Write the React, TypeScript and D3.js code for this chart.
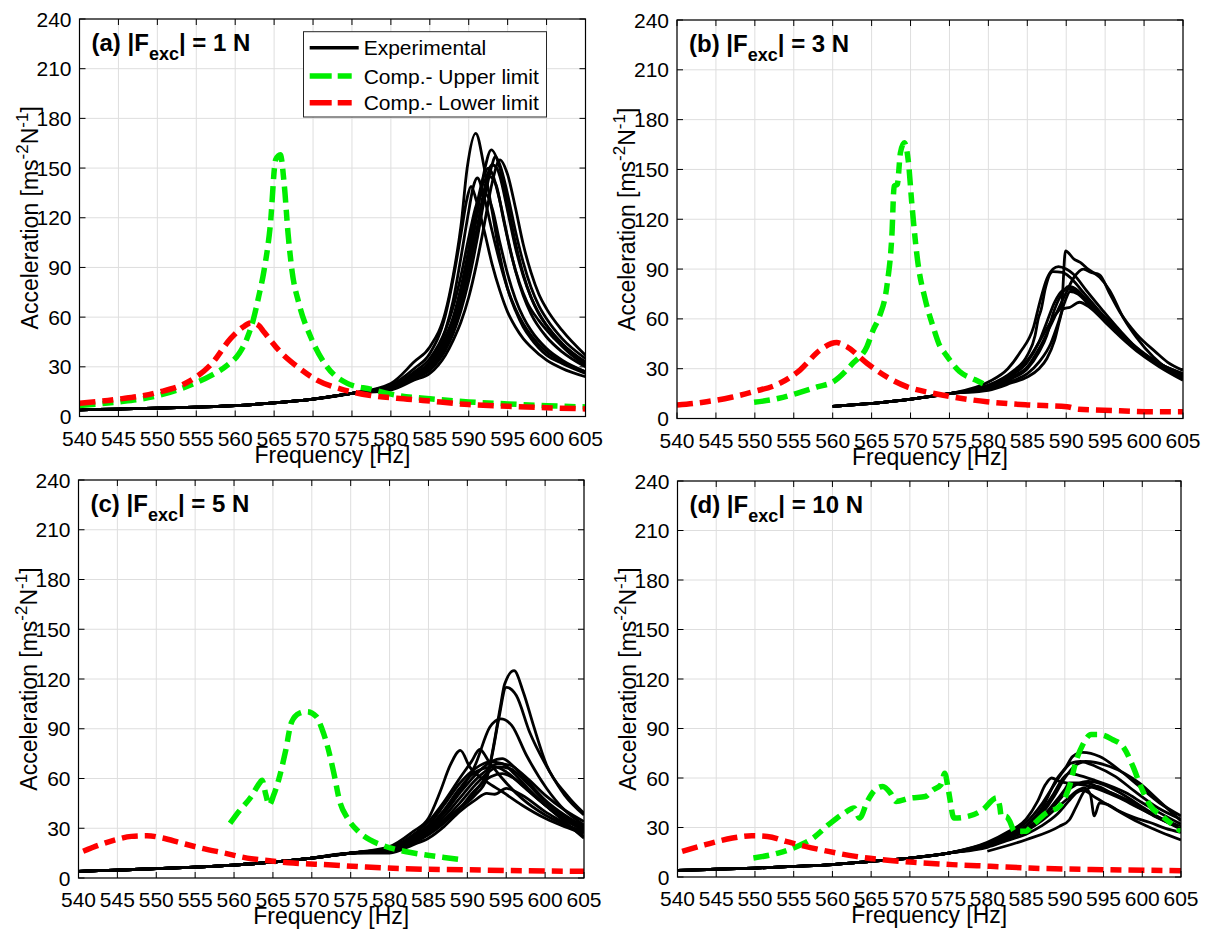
import React from 'react';
import * as d3 from 'd3';

type Pt = [number, number];

// ---------- axes ----------
const FREQ_TICKS = [540, 545, 550, 555, 560, 565, 570, 575, 580, 585, 590, 595, 600, 605];
const ACC_TICKS = [0, 30, 60, 90, 120, 150, 180, 210, 240];
const X_TITLE = 'Frequency [Hz]';
const LEGEND_LABELS = ['Experimental', 'Comp.- Upper limit', 'Comp.- Lower limit'];

// ---------- panel (a) |Fexc| = 1 N ----------
const LOW_A: Pt[] = [[540, 4], [545, 4.5], [550, 5], [555, 5.7], [560, 6.6], [565, 8.2], [570, 10.5], [575, 14]];
const EXP_A1: Pt[] = [[580, 20], [583, 33], [585, 42], [587, 63], [588, 85], [589, 115], [589.8, 150], [590.9, 171], [592, 150], [593, 124], [594, 97], [595, 77], [596, 64], [597, 54], [598, 47], [600, 37], [602, 32], [605, 26]];
const EXP_A2: Pt[] = [[580, 19], [583, 29], [585, 38], [587, 61], [588, 83], [589, 110], [589.8, 132], [590.3, 139], [591, 130], [592, 112], [593, 92], [594, 76], [595, 63], [596, 54], [597, 47], [598, 42], [600, 34], [602, 29], [605, 24]];
const EXP_A3: Pt[] = [[580, 18], [583, 26], [585, 33], [587, 52], [588, 70], [589, 96], [590, 124], [590.6, 139], [591.1, 144], [592, 132], [593, 112], [594, 93], [595, 77], [596, 65], [597, 56], [598, 49], [600, 39], [602, 33], [605, 27]];
const EXP_A4: Pt[] = [[580, 17], [583, 24], [585, 30], [587, 44], [588, 55], [589, 72], [590, 93], [591, 120], [592, 148], [592.9, 161], [594, 150], [595, 128], [596, 105], [597, 86], [598, 72], [599, 62], [600, 55], [602, 44], [605, 33]];
const EXP_A5: Pt[] = [[580, 16.5], [583, 23], [585, 28], [587, 40], [588, 50], [589, 64], [590, 82], [591, 105], [592, 131], [593, 152], [593.4, 157], [594, 152], [595, 134], [596, 112], [597, 93], [598, 78], [599, 67], [600, 59], [602, 47], [605, 35]];
const EXP_A6: Pt[] = [[580, 16], [583, 22], [585, 26], [587, 37], [588, 46], [589, 57], [590, 72], [591, 92], [592, 116], [593, 141], [594, 155], [595, 146], [596, 126], [597, 104], [598, 87], [599, 74], [600, 65], [602, 52], [605, 37]];
const EXP_A7: Pt[] = [[580, 17.5], [583, 25], [585, 32], [587, 48], [588, 60], [589, 78], [590, 101], [591, 127], [592, 146], [592.5, 150], [593, 147], [594, 130], [595, 108], [596, 88], [597, 73], [598, 62], [600, 48], [602, 39], [605, 30]];
const EXP_A8: Pt[] = [[580, 18], [583, 27], [585, 35], [587, 52], [588, 66], [589, 85], [590, 108], [591, 128], [592, 135], [593, 126], [594, 105], [595, 86], [596, 71], [597, 60], [598, 52], [600, 41], [602, 34], [605, 27]];
const EXP_A9: Pt[] = [[580, 16.5], [583, 23.5], [585, 29], [587, 42], [588, 53], [589, 68], [590, 88], [591, 112], [592, 137], [593, 152], [593.6, 150], [594, 145], [595, 124], [596, 102], [597, 85], [598, 72], [600, 55], [602, 44], [605, 32]];
const EXP_A10: Pt[] = [[580, 17], [583, 24], [585, 31], [587, 46], [588, 58], [589, 75], [590, 97], [591, 122], [591.8, 140], [592.6, 145], [593.5, 140], [594.5, 118], [595.5, 97], [596.5, 81], [597.5, 69], [599, 58], [601, 47], [603, 38], [605, 31]];
const UPPER_A: Pt[] = [[540, 6.7], [545, 8.8], [550, 12.5], [554.5, 19.5], [557, 25], [559, 31], [560.5, 38], [561.5, 47], [562.3, 58], [563, 72], [563.7, 88], [564.5, 115], [565.2, 155], [565.8, 158], [566.3, 140], [566.8, 110], [567.3, 88], [568.2, 68], [569.7, 48], [571.8, 30], [574.4, 20], [577.4, 16.5], [580.8, 12.8], [585, 10.7], [590, 8.8], [595, 7.6], [600, 6.5], [605, 5.8]];
const LOWER_A: Pt[] = [[540, 8], [545, 10.5], [550, 14.5], [554, 21], [557, 32], [559.4, 47], [561, 54], [562, 56.5], [563, 55], [563.7, 51], [565.8, 39], [568, 30], [570.5, 22], [573.5, 16.7], [577.4, 12.7], [580.8, 11], [584.1, 9.7], [590, 7.2], [595, 6.2], [600, 5.3], [605, 4.6]];

// ---------- panel (b) |Fexc| = 3 N ----------
const LOW_B: Pt[] = [[560, 7.3], [563, 8.3], [567, 10], [571, 12.3], [575, 15]];
const EXP_B1: Pt[] = [[580, 20], [583, 27], [585, 35], [587, 50], [588.5, 62], [589.4, 68], [589.9, 101], [591, 96], [591.8, 94], [592.8, 90], [594.3, 85], [595.6, 77], [597.3, 61], [599, 49], [601.2, 37], [603, 30], [605, 25]];
const EXP_B2: Pt[] = [[580, 22], [582.5, 30], [584.1, 40], [585.8, 55], [586.6, 70], [587.5, 84], [588.3, 90], [589, 91.5], [590, 90], [590.9, 87], [592.6, 77], [594.7, 65], [596.9, 53], [599.4, 41], [602, 33], [605, 27]];
const EXP_B3: Pt[] = [[580, 19], [583, 25], [585, 31], [586.5, 42], [588, 56], [589, 66], [590, 76], [591, 85], [592.2, 90], [593.2, 88], [594.3, 86.5], [595.5, 76], [596.9, 64], [599, 51], [601.5, 40], [603, 34], [605, 29]];
const EXP_B4: Pt[] = [[580, 20], [583, 28], [585, 38], [586, 50], [586.4, 60], [586.8, 66], [587.3, 78], [588.3, 88.5], [589.5, 88], [590.5, 85], [592, 77], [594, 66], [596, 55], [598.5, 44], [601, 35], [605, 26]];
const EXP_B5: Pt[] = [[580, 18.5], [583, 24], [585, 30], [586.5, 40], [587.5, 50], [588.3, 63], [589.3, 74], [590.3, 79.5], [591.5, 77], [592.6, 71], [594.5, 62], [596.5, 52], [599, 42], [602, 33], [605, 26]];
const EXP_B6: Pt[] = [[580, 17.5], [583, 22.5], [585, 27], [586.5, 34], [588, 45], [589, 58], [589.8, 70], [590.5, 76.5], [591.5, 75], [593, 68], [595, 59], [597, 50], [599.5, 40], [602, 32], [605, 24]];
const EXP_B7: Pt[] = [[580, 17], [583, 21.5], [585, 25], [586.5, 30], [587.5, 36], [588.5, 47], [589.2, 60], [589.6, 66], [590.5, 67], [591.7, 70], [593, 67], [595, 58], [597, 49], [599.5, 39], [602, 31], [605, 23]];
const EXP_B8: Pt[] = [[580, 19], [583, 26], [585, 34], [586.5, 46], [587.5, 58], [588.5, 70], [589.5, 77], [590.3, 78], [591.5, 76], [593, 70], [595, 61], [597, 51], [599.5, 41], [602, 33], [605, 27]];
const UPPER_B: Pt[] = [[549.9, 9.8], [553.1, 12.2], [555.4, 15.2], [558, 19], [560.1, 22.2], [562.6, 33.3], [564.4, 43.3], [565.2, 53.3], [566, 61.4], [567, 81], [567.6, 110], [567.9, 140], [568.3, 141], [568.7, 160], [569.2, 166], [569.7, 155.6], [570.2, 127.5], [570.9, 95.4], [571.9, 71.4], [572.9, 55.3], [573.8, 43.3], [574.4, 39.3], [576.3, 28.3], [578.3, 23.3], [579.6, 20.3]];
const LOWER_B: Pt[] = [[540, 8.1], [543.8, 10.1], [547, 12.8], [549.8, 16.1], [553.2, 21.2], [555.8, 29.2], [558.4, 41.3], [560.5, 45.7], [561.8, 43.3], [564.4, 33.3], [566.9, 25.2], [569.5, 19.2], [572.9, 15.2], [576, 12.5], [579.8, 10.1], [585, 8.2], [590.1, 7.1], [591.6, 5.6], [596, 4.8], [601.2, 4.1], [605, 4.1]];

// ---------- panel (c) |Fexc| = 5 N ----------
const LOW_C: Pt[] = [[540, 4], [545, 4.8], [550, 5.6], [555, 6.6], [560, 7.8], [565, 9.6], [570, 12], [575, 15]];
const EXP_C1: Pt[] = [[580, 17], [583, 23], [585, 28], [587, 35], [589, 42], [591, 50], [592.5, 60], [593.3, 78], [594.2, 102], [594.8, 117], [596, 125], [597.2, 112], [598.5, 92], [600.2, 68], [602.8, 50], [605, 39]];
const EXP_C2: Pt[] = [[580, 17], [583, 22], [585, 27], [587, 34], [589, 42], [591, 52], [593, 70], [594, 95], [595, 115], [596.3, 110], [598, 88], [600.6, 64], [602.5, 50], [605, 38]];
const EXP_C3: Pt[] = [[580, 18], [583, 25], [585, 31], [587, 40], [589, 52], [591, 68], [592.9, 91], [594.3, 96], [595.7, 92], [597.6, 74], [600.2, 54], [602.5, 41], [605, 32]];
const EXP_C4: Pt[] = [[580, 19], [583, 28], [585, 36], [586.5, 52], [587.8, 68], [589.1, 77], [590.3, 67], [592.5, 58], [594.5, 52], [597, 44], [600, 36], [602.5, 31], [605, 27]];
const EXP_C5: Pt[] = [[580, 18], [583, 26], [585, 34], [587, 46], [589, 60], [590.5, 70], [591.6, 77.5], [592.8, 70], [594.5, 60], [597, 48], [600, 38], [605, 28]];
const EXP_C6: Pt[] = [[580, 17.5], [583, 25], [585, 32], [587, 44], [589, 57], [591, 66], [593, 70], [594.5, 69], [596, 63], [598, 53], [600, 44], [602.5, 35], [605, 29]];
const EXP_C7: Pt[] = [[580, 16.5], [583, 23], [585, 29], [587, 39], [589, 51], [591, 62], [593, 70], [594.5, 72], [596, 67], [598, 57], [600, 47], [602.5, 38], [605, 31]];
const EXP_C8: Pt[] = [[580, 16], [583, 22], [585, 27], [587, 35], [589, 45], [591, 56], [592.5, 63], [594, 67], [595.5, 66], [597.5, 58], [600, 46], [602.5, 37], [605, 30]];
const EXP_C9: Pt[] = [[580, 15], [583, 20], [585, 24], [587, 31], [589, 40], [591, 47], [592.5, 51], [593.5, 50.5], [595, 54], [597, 50], [600, 40], [602.5, 33], [605, 25]];
const EXP_C10: Pt[] = [[580, 15.5], [583, 21], [585, 26], [587, 33], [589, 42], [591, 53], [593, 61], [594.5, 63], [596, 60], [598, 52], [600.5, 42], [602.5, 34], [605, 24]];
const EXP_C11: Pt[] = [[580, 17], [583, 24], [585, 30], [587, 41], [589, 54], [590.5, 62], [592, 66], [593.5, 67], [595, 64], [597, 56], [600, 44], [602.5, 36], [605, 30]];
const EXP_C12: Pt[] = [[580, 16.5], [583, 23], [585, 28], [587, 37], [589, 48], [591, 59], [592.5, 65], [594, 69], [595.5, 68], [597.5, 61], [600, 50], [602.5, 41], [605, 34]];
const UPPER_C: Pt[] = [[559.5, 33], [560.6, 40], [562.2, 49], [563.4, 58], [563.6, 59], [564.1, 50], [564.5, 44], [565.1, 50], [565.9, 62], [566.6, 76], [567.4, 94], [568.4, 99.3], [569.4, 100.3], [570.6, 97.3], [571.3, 90], [572.1, 78], [572.8, 64], [573.6, 46], [574.6, 36], [576, 28], [577.5, 23], [579.5, 19], [582, 16], [584.5, 14], [587, 12.4], [589.4, 11]];
const LOWER_C: Pt[] = [[540.6, 16.1], [542.8, 20.1], [544.8, 23.1], [546.8, 25.1], [548.8, 25.5], [550.8, 24.1], [553.2, 21.1], [555.7, 18.1], [558.7, 15.1], [561.7, 12], [564.6, 10.4], [567.6, 9], [572.1, 8], [577, 6.6], [582, 5.6], [589.4, 5], [597, 4.4], [605, 4]];

// ---------- panel (d) |Fexc| = 10 N ----------
const LOW_D: Pt[] = [[540, 4], [545, 4.7], [550, 5.4], [555, 6.4], [560, 7.5], [565, 9.5], [570, 11.5], [575, 14.5]];
const EXP_D1: Pt[] = [[580, 20], [582.5, 25], [585, 31], [587.2, 43], [588.9, 59], [590.2, 67], [591, 73], [592.3, 75.5], [594.5, 73], [597, 65], [599.6, 55], [602.2, 45], [605, 37]];
const EXP_D2: Pt[] = [[580, 19.5], [582.5, 24], [585, 29], [587, 38], [588.5, 48], [590, 60], [591.2, 67], [592.7, 70], [595.8, 67], [599.6, 57], [602.2, 46], [605, 34]];
const EXP_D3: Pt[] = [[580, 21], [582.5, 27], [585, 35], [586.5, 46], [587.5, 56], [588.3, 60], [589.3, 58], [591, 56.5], [592.7, 55.5], [595, 52], [597, 48], [599.5, 42], [602.2, 36], [605, 30.5]];
const EXP_D4: Pt[] = [[580, 20], [582.5, 25], [585, 31], [587, 40], [588.5, 50], [589.8, 60], [590.6, 63], [591.5, 62], [593.6, 59], [597.9, 51], [600, 45], [602.2, 39], [605, 32]];
const EXP_D5: Pt[] = [[580, 19], [582.5, 24], [585, 29], [587, 36], [588.5, 44], [590, 53], [590.6, 57], [592.7, 57], [594.9, 53], [598.8, 45], [602, 36], [605, 29]];
const EXP_D6: Pt[] = [[580, 18.5], [582.5, 23], [585, 28], [587, 34], [589, 42], [590.5, 48], [591.5, 52], [592.5, 54], [593.3, 50], [593.8, 37], [594.5, 45], [595.5, 44], [597, 40], [599, 36], [601, 33], [603, 29.5], [605, 27]];
const EXP_D7: Pt[] = [[580, 18], [582.5, 22], [585, 26], [587, 31], [589, 38], [590.5, 46], [591.5, 51], [592.3, 52.5], [594, 48], [595.8, 43], [599.6, 33], [602.5, 27], [605, 22.5]];
const EXP_D9: Pt[] = [[580, 20.5], [582.5, 26], [585, 33], [587, 44], [588.5, 55], [589.8, 64], [590.8, 69], [592, 70], [594, 67], [596.5, 61], [599, 52], [602, 42], [605, 35]];
const EXP_D10: Pt[] = [[580, 19], [582.5, 23.5], [585, 28], [587, 35], [588.8, 44], [590.3, 52], [591.5, 56], [593, 58], [595, 56], [597.5, 50], [600.5, 41], [603, 34], [605, 30]];
const EXP_D_LATE: Pt[] = [[580, 15.6], [585, 22.6], [589.3, 30.7], [590.6, 34.7], [591.5, 42.8], [592.7, 53], [594, 55], [596, 51], [598.5, 45], [601.5, 37], [605, 30]];
const UPPER_D: Pt[] = [[549.8, 11.5], [553, 14.5], [555.5, 18.6], [557.5, 23.6], [559.5, 31.7], [561.5, 38.7], [562.8, 41.8], [563.5, 35.7], [564.5, 45.8], [565.5, 52.8], [566.5, 54.9], [567.5, 50.8], [568.2, 45.8], [570, 47.8], [572, 48.8], [573, 52.8], [574, 55.9], [574.5, 62.9], [575, 51.8], [575.7, 35.7], [577.5, 36.7], [579.4, 40.7], [581.2, 47.9], [581.6, 42.8], [581.8, 36.8], [582.4, 36.8], [582.9, 33.7], [583.5, 27.7], [585, 27.7], [585.7, 30.7], [587.6, 38.8], [589.3, 42.8], [590.6, 55], [591.5, 71], [592.3, 80], [593.4, 86.3], [594.5, 86.3], [596.2, 83.2], [597.5, 79.2], [598.8, 67], [599.8, 55], [601.1, 42.8], [602.6, 36.8], [603.9, 31.7], [605, 27.7]];
const LOWER_D: Pt[] = [[540.6, 15.5], [543.6, 19.6], [547.1, 23.6], [549.6, 25], [551.6, 24.6], [554, 21.6], [556.5, 18.6], [559.5, 15.5], [563, 12.5], [566.5, 10.5], [570.5, 8.9], [575.5, 7.5], [580.4, 6.5], [585.4, 5.4], [590.4, 4.8], [595.4, 4.4], [605, 3.8]];

const TAGS = ['(a)', '(b)', '(c)', '(d)'];
const FORCES = ['1 N', '3 N', '5 N', '10 N'];

// ---------- layout ----------
const PANELS = [
  { id: 'a', box: [79.5, 585.5, 19, 416.5], low: LOW_A, exp: [EXP_A1, EXP_A2, EXP_A3, EXP_A4, EXP_A5, EXP_A6, EXP_A7, EXP_A8, EXP_A9, EXP_A10], extra: [] as Pt[][], upper: UPPER_A, lower: LOWER_A, legend: true },
  { id: 'b', box: [677, 1183, 20, 418.5], low: LOW_B, exp: [EXP_B1, EXP_B2, EXP_B3, EXP_B4, EXP_B5, EXP_B6, EXP_B7, EXP_B8], extra: [] as Pt[][], upper: UPPER_B, lower: LOWER_B, legend: false },
  { id: 'c', box: [78.5, 584, 480, 878], low: LOW_C, exp: [EXP_C1, EXP_C2, EXP_C3, EXP_C4, EXP_C5, EXP_C6, EXP_C7, EXP_C8, EXP_C9, EXP_C10, EXP_C11, EXP_C12], extra: [] as Pt[][], upper: UPPER_C, lower: LOWER_C, legend: false },
  { id: 'd', box: [677.5, 1181, 481, 877], low: LOW_D, exp: [EXP_D1, EXP_D2, EXP_D3, EXP_D4, EXP_D5, EXP_D6, EXP_D7, EXP_D9, EXP_D10], extra: [EXP_D_LATE], upper: UPPER_D, lower: LOWER_D, legend: false },
];

const FONT = '"Liberation Sans", Arial, Helvetica, sans-serif';
const GREEN = '#00ee00';
const RED = '#ff0000';
const DASH = '16,7,11,7';

function Panel({ p, idx }: { p: typeof PANELS[number]; idx: number }) {
  const [left, right, top, bottom] = p.box;
  const x = d3.scaleLinear().domain([540, 605]).range([left, right]);
  const y = d3.scaleLinear().domain([0, 240]).range([bottom, top]);
  const line = d3.line<Pt>().x(d => x(d[0])).y(d => y(d[1])).curve(d3.curveMonotoneX);
  const clipId = `clip-${p.id}`;
  const midX = (left + right) / 2;
  const midY = (top + bottom) / 2;
  const blackCurves = [...p.exp.map(c => [...p.low, ...c]), ...p.extra];
  return (
    <g>
      <defs>
        <clipPath id={clipId}>
          <rect x={left} y={top} width={right - left} height={bottom - top} />
        </clipPath>
      </defs>
      <rect x={left} y={top} width={right - left} height={bottom - top} fill="#fff" />
      {FREQ_TICKS.map(t => (
        <line key={'gx' + t} x1={x(t)} x2={x(t)} y1={top} y2={bottom} stroke="#dedede" strokeWidth={1} />
      ))}
      {ACC_TICKS.map(t => (
        <line key={'gy' + t} x1={left} x2={right} y1={y(t)} y2={y(t)} stroke="#dedede" strokeWidth={1} />
      ))}
      <g clipPath={`url(#${clipId})`}>
        {blackCurves.map((c, i) => (
          <path key={'e' + i} d={line(c) || ''} fill="none" stroke="#000" strokeWidth={2.8} strokeLinejoin="round" />
        ))}
        <path d={line(p.upper) || ''} fill="none" stroke={GREEN} strokeWidth={5.5} strokeDasharray={DASH} />
        <path d={line(p.lower) || ''} fill="none" stroke={RED} strokeWidth={5.5} strokeDasharray={DASH} />
      </g>
      {FREQ_TICKS.map(t => (
        <g key={'tx' + t}>
          <line x1={x(t)} x2={x(t)} y1={bottom} y2={bottom - 6} stroke="#000" strokeWidth={1} />
          <line x1={x(t)} x2={x(t)} y1={top} y2={top + 6} stroke="#000" strokeWidth={1} />
          <text x={x(t)} y={bottom + 29} textAnchor="middle" fontSize={21} fill="#000">{t}</text>
        </g>
      ))}
      {ACC_TICKS.map(t => (
        <g key={'ty' + t}>
          <line x1={left} x2={left + 6} y1={y(t)} y2={y(t)} stroke="#000" strokeWidth={1} />
          <line x1={right} x2={right - 6} y1={y(t)} y2={y(t)} stroke="#000" strokeWidth={1} />
          <text x={left - 8} y={y(t)} dy="0.36em" textAnchor="end" fontSize={21} fill="#000">{t}</text>
        </g>
      ))}
      <rect x={left} y={top} width={right - left} height={bottom - top} fill="none" stroke="#000" strokeWidth={1.2} />
      <text x={midX} y={bottom + 46} textAnchor="middle" fontSize={23} fill="#000">{X_TITLE}</text>
      <text transform={`translate(${left - 42},${midY}) rotate(-90)`} textAnchor="middle" fontSize={23} fill="#000">
        Acceleration [ms<tspan dy={-10} fontSize={17}>-2</tspan><tspan dy={10}>N</tspan><tspan dy={-10} fontSize={17}>-1</tspan><tspan dy={10}>]</tspan>
      </text>
      <text x={left + 12} y={top + 32} fontSize={24} fontWeight="bold" fill="#000">
        {TAGS[idx]} |F<tspan dy={9} fontSize={18}>exc</tspan><tspan dy={-9}>| = {FORCES[idx]}</tspan>
      </text>
      {p.legend && <Legend />}
    </g>
  );
}

function Legend() {
  const bx = 303.5, by = 31.7, bw = 243, bh = 85.3;
  const rows = [47.7, 76, 102.7];
  const styles = [
    { stroke: '#000', w: 3.4, dash: undefined as string | undefined },
    { stroke: GREEN, w: 5.5, dash: '22,6,14,7' },
    { stroke: RED, w: 5.5, dash: '22,6,14,7' },
  ];
  return (
    <g>
      <rect x={bx} y={by} width={bw} height={bh} fill="#fff" stroke="#262626" strokeWidth={1} />
      {LEGEND_LABELS.map((lab, i) => (
        <g key={lab}>
          <line x1={309.7} x2={358.7} y1={rows[i]} y2={rows[i]} stroke={styles[i].stroke} strokeWidth={styles[i].w} strokeDasharray={styles[i].dash} />
          <text x={363.7} y={rows[i]} dy="0.36em" fontSize={21} fill="#000">{lab}</text>
        </g>
      ))}
    </g>
  );
}

export default function App() {
  return (
    <svg width={1210} height={932} style={{ position: 'absolute', left: 0, top: 0, background: '#fff' }} fontFamily={FONT}>
      <rect x={0} y={0} width={1210} height={932} fill="#fff" />
      {PANELS.map((p, i) => (
        <Panel key={p.id} p={p} idx={i} />
      ))}
    </svg>
  );
}
